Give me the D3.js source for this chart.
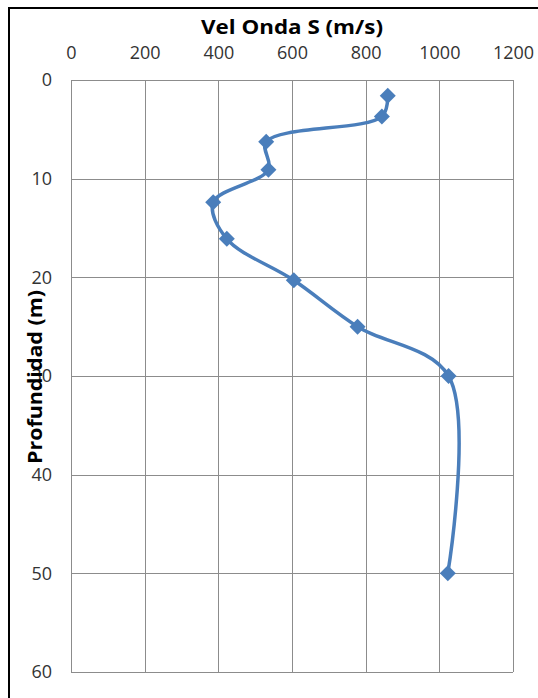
<!DOCTYPE html>
<html><head><meta charset="utf-8">
<script src="https://cdn.jsdelivr.net/npm/d3@7"></script>
<style>body{margin:0;background:#fff}svg{display:block}</style>
</head><body>
<script>
const velocity = [860, 844, 530, 536, 386, 423, 605, 778, 1025, 1023];
const depth = [1.6, 3.7, 6.25, 9.1, 12.4, 16.1, 20.3, 25.0, 30.0, 50.0];
const xTicks = [0, 200, 400, 600, 800, 1000, 1200];
const yTicks = [0, 10, 20, 30, 40, 50, 60];
const xTitle = "Vel Onda S (m/s)";
const yTitle = "Profundidad  (m)";

const W = 538, H = 698;
const m = {left: 71, right: 513, top: 80, bottom: 672};
const svg = d3.select("body").append("svg").attr("width", W).attr("height", H);
svg.append("rect").attr("width", W).attr("height", H).attr("fill", "#fff");
svg.append("rect").attr("x", 9).attr("y", 8).attr("width", 600).attr("height", 800)
  .attr("fill", "none").attr("stroke", "#000").attr("stroke-width", 2);

const x = d3.scaleLinear().domain([0, 1200]).range([m.left, m.right]);
const y = d3.scaleLinear().domain([0, 60]).range([m.top, m.bottom]);
const font = "'Open Sans', sans-serif";

// gridlines
svg.append("g").selectAll("line").data(xTicks).join("line")
  .attr("x1", d => Math.round(x(d)) + 0.5).attr("x2", d => Math.round(x(d)) + 0.5)
  .attr("y1", m.top).attr("y2", m.bottom).attr("stroke", "#8c8c8c").attr("stroke-width", 1);
svg.append("g").selectAll("line").data(yTicks).join("line")
  .attr("y1", d => Math.round(y(d)) + 0.5).attr("y2", d => Math.round(y(d)) + 0.5)
  .attr("x1", m.left).attr("x2", m.right).attr("stroke", "#8c8c8c").attr("stroke-width", 1);

// axes via d3 axis (labels only)
const xAxis = svg.append("g").attr("transform", `translate(0,${m.top})`)
  .call(d3.axisTop(x).tickValues(xTicks).tickSize(0).tickPadding(21).tickFormat(d3.format("d")));
xAxis.select(".domain").remove();
xAxis.selectAll("text").attr("font-family", font).attr("font-size", 18).attr("fill", "#333");

const yAxis = svg.append("g").attr("transform", `translate(${m.left},0)`)
  .call(d3.axisLeft(y).tickValues(yTicks).tickSize(0).tickPadding(19).tickFormat(d3.format("d")));
yAxis.select(".domain").remove();
yAxis.selectAll("text").attr("font-family", font).attr("font-size", 18).attr("fill", "#333");

// titles
svg.append("text").attr("x", 292).attr("y", 34).attr("text-anchor", "middle")
  .attr("font-family", font).attr("font-weight", "bold").attr("font-size", 20).attr("fill", "#000")
  .attr("textLength", 182).attr("lengthAdjust", "spacingAndGlyphs")
  .text(xTitle);
svg.append("text").attr("transform", "translate(42,377) rotate(-90)").attr("text-anchor", "middle")
  .attr("font-family", font).attr("font-weight", "bold").attr("font-size", 20).attr("fill", "#000")
  .attr("textLength", 174).attr("lengthAdjust", "spacingAndGlyphs")
  .text(yTitle);

// line
const pts = velocity.map((v, i) => [x(v), y(depth[i])]);
svg.append("path").attr("d", d3.line().curve(d3.curveCatmullRom.alpha(0.5))(pts))
  .attr("fill", "none").attr("stroke", "#4a7ebb").attr("stroke-width", 3.5).attr("stroke-linejoin", "round");

// markers
svg.append("g").selectAll("path").data(pts).join("path")
  .attr("transform", d => `translate(${d[0]},${d[1]})`)
  .attr("d", "M0,-8L8,0L0,8L-8,0Z").attr("fill", "#4a7ebb");
</script>
</body></html>
